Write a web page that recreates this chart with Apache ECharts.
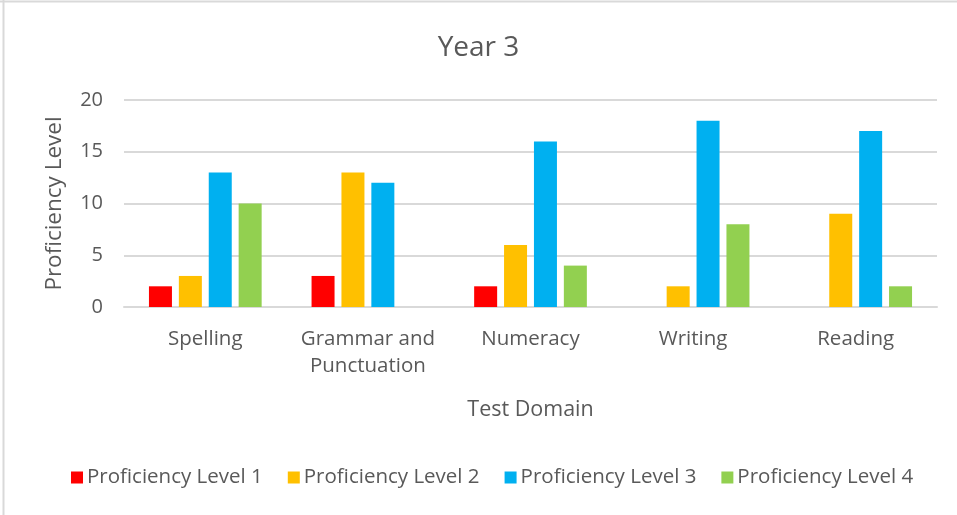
<!DOCTYPE html>
<html><head><meta charset="utf-8">
<script src="https://cdn.jsdelivr.net/npm/echarts@6/dist/echarts.min.js"></script>
<style>html,body{margin:0;padding:0;background:#fff}#c{width:957px;height:515px}</style>
</head><body><div id="c"></div>
<script>
const categories = ["Spelling", "Grammar and\nPunctuation", "Numeracy", "Writing", "Reading"];
const seriesNames = ["Proficiency Level 1", "Proficiency Level 2", "Proficiency Level 3", "Proficiency Level 4"];
const level1 = [2, 3, 2, 0, 0];
const level2 = [3, 13, 6, 2, 9];
const level3 = [13, 12, 16, 18, 17];
const level4 = [10, 0, 4, 8, 2];
const colors = ["#FF0000", "#FFC000", "#00B0F0", "#92D050"];
const yTicks = [0, 5, 10, 15, 20];

const FONT = "Open Sans";
const TXT = "#595959";
const allData = [level1, level2, level3, level4];

const chart = echarts.init(document.getElementById('c'), null, {renderer: 'canvas'});
chart.setOption({
  animation: false,
  backgroundColor: '#fff',
  textStyle: {fontFamily: FONT},
  title: {text: 'Year 3', left: 'center', top: 29, textStyle: {fontFamily: FONT, fontSize: 28, fontWeight: 'normal', color: TXT}},
  legend: {
    data: seriesNames, bottom: 22, left: 66, itemWidth: 12, itemHeight: 12, itemGap: 25,
    icon: 'rect', textStyle: {fontFamily: FONT, fontSize: 20.5, color: TXT, padding: [0, 0, 0, -1]}
  },
  grid: {left: 124, right: 20, top: 100, bottom: 208},
  xAxis: {
    type: 'category', data: categories,
    name: 'Test Domain', nameLocation: 'middle', nameGap: 92,
    nameTextStyle: {fontFamily: FONT, fontSize: 21.5, color: TXT},
    axisLine: {lineStyle: {color: '#D9D9D9', width: 2}},
    axisTick: {show: false},
    axisLabel: {interval: 0, fontFamily: FONT, fontSize: 20.5, color: TXT, margin: 19, lineHeight: 27}
  },
  yAxis: {
    type: 'value', min: yTicks[0], max: yTicks[yTicks.length - 1], interval: 5,
    name: 'Proficiency Level', nameLocation: 'middle', nameGap: 58,
    nameTextStyle: {fontFamily: FONT, fontSize: 22.5, color: TXT},
    axisLine: {show: false}, axisTick: {show: false},
    axisLabel: {fontFamily: FONT, fontSize: 20, color: TXT, margin: 21},
    splitLine: {lineStyle: {color: '#D9D9D9', width: 2}}
  },
  series: seriesNames.map((n, i) => ({
    name: n, type: 'bar', data: allData[i], barWidth: 23, barGap: '30%',
    itemStyle: {color: colors[i]}
  })),
  graphic: [
    {type: 'line', shape: {x1: 0, y1: 1.5, x2: 957, y2: 1.5}, style: {stroke: '#D9D9D9', lineWidth: 2}},
    {type: 'line', shape: {x1: 3.5, y1: 0, x2: 3.5, y2: 515}, style: {stroke: '#D9D9D9', lineWidth: 2}}
  ]
});
</script></body></html>
